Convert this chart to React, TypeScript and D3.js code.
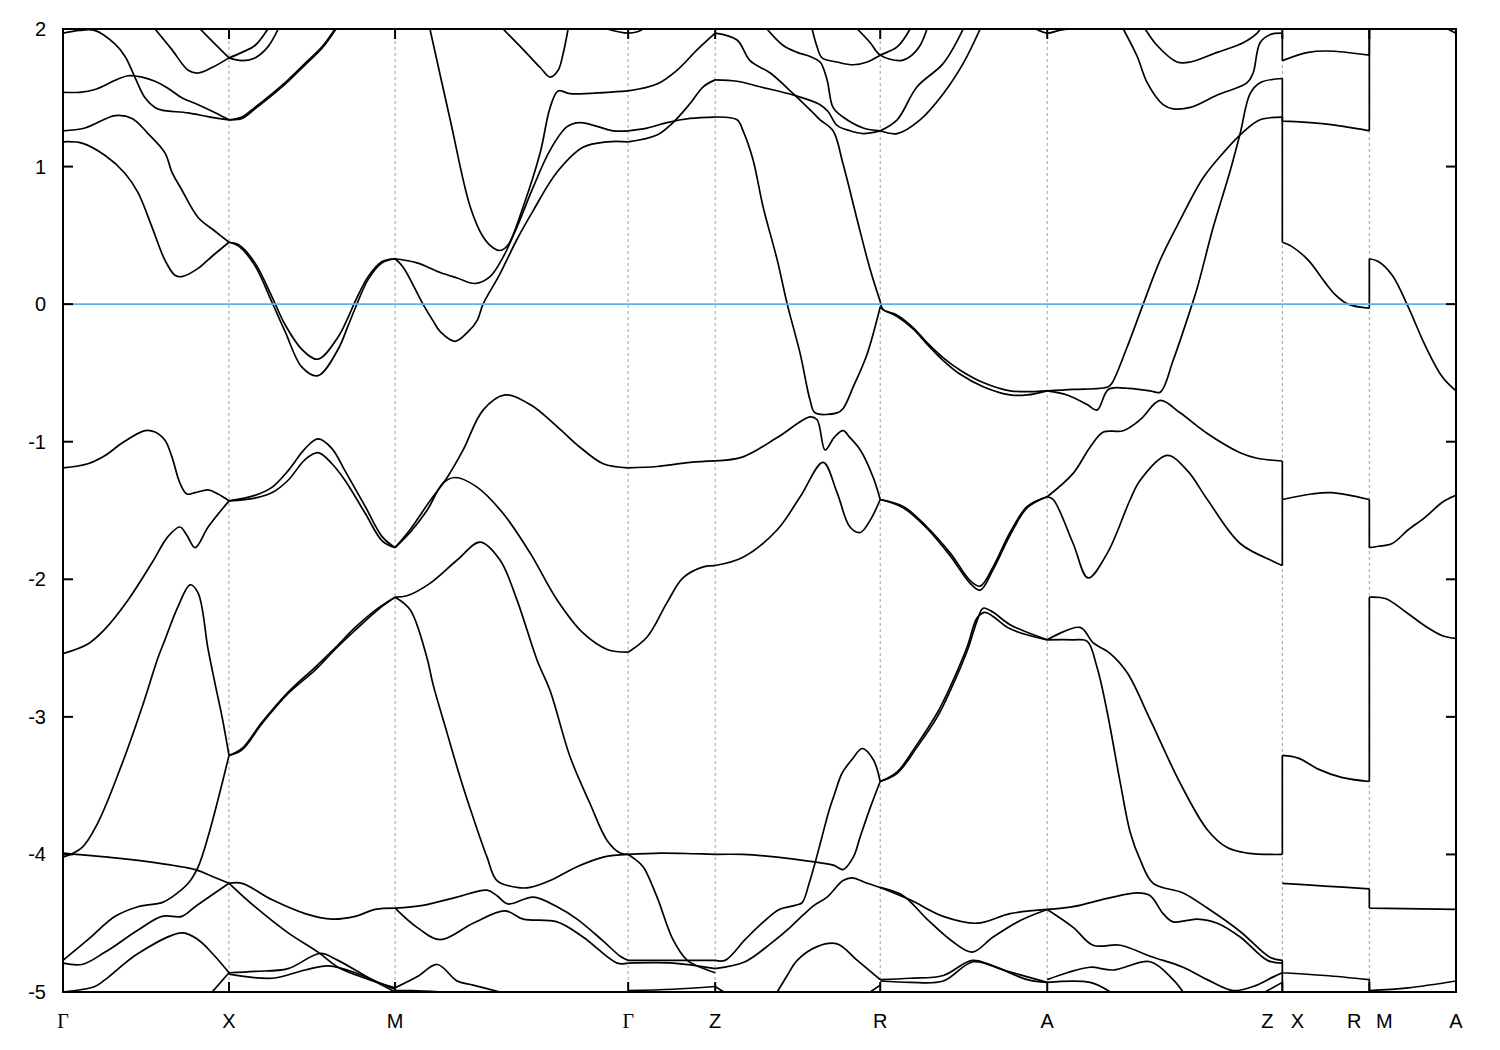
import React from 'react';
import * as d3 from 'd3';

type Pt = [number, number];

// high-symmetry path (k in path units) and labels
const kTicks = [0, 0.5, 1.0, 1.702, 1.964, 2.461, 2.964, 3.672, 3.934, 4.195];
const kLabels = ['Γ', 'X', 'M', 'Γ', 'Z', 'R', 'A', 'Z|X', 'R|M', 'A'];
const eTicks = [-5, -4, -3, -2, -1, 0, 1, 2];
const fermiLevel = 0;

// Γ – X
const bandsGX: Pt[][] = [
  [[0,1.97],[0.05,1.99],[0.095,1.99],[0.157,1.89],[0.187,1.80],[0.211,1.68],[0.247,1.50],[0.277,1.43],[0.298,1.41],[0.377,1.39],[0.443,1.36],[0.5,1.34]],
  [[0,1.54],[0.05,1.54],[0.096,1.56],[0.16,1.63],[0.196,1.66],[0.238,1.65],[0.277,1.62],[0.316,1.57],[0.358,1.50],[0.407,1.45],[0.46,1.39],[0.5,1.34]],
  [[0,1.26],[0.066,1.28],[0.157,1.37],[0.208,1.35],[0.256,1.24],[0.307,1.10],[0.328,0.96],[0.358,0.83],[0.407,0.63],[0.458,0.53],[0.5,0.45]],
  [[0,1.18],[0.057,1.17],[0.127,1.08],[0.187,0.95],[0.226,0.81],[0.268,0.56],[0.307,0.32],[0.337,0.21],[0.358,0.20],[0.407,0.26],[0.45,0.35],[0.5,0.45]],
  [[0.277,2.0],[0.328,1.85],[0.377,1.70],[0.407,1.68],[0.449,1.72],[0.5,1.79]],
  [[0.413,2.0],[0.458,1.89],[0.5,1.79]],
  [[0,-1.19],[0.075,-1.16],[0.127,-1.10],[0.178,-1.01],[0.247,-0.92],[0.277,-0.93],[0.307,-0.99],[0.328,-1.11],[0.352,-1.30],[0.373,-1.38],[0.398,-1.37],[0.437,-1.35],[0.467,-1.38],[0.5,-1.43]],
  [[0,-2.54],[0.075,-2.47],[0.127,-2.36],[0.196,-2.15],[0.268,-1.88],[0.316,-1.69],[0.352,-1.62],[0.373,-1.68],[0.398,-1.77],[0.437,-1.62],[0.5,-1.43]],
  [[0,-4.02],[0.057,-3.95],[0.105,-3.77],[0.178,-3.34],[0.238,-2.93],[0.286,-2.57],[0.307,-2.44],[0.346,-2.20],[0.383,-2.04],[0.407,-2.10],[0.437,-2.51],[0.458,-2.76],[0.479,-3.0],[0.5,-3.28]],
  [[0,-3.99],[0.178,-4.03],[0.277,-4.06],[0.398,-4.11],[0.45,-4.16],[0.5,-4.21]],
  [[0,-4.77],[0.075,-4.62],[0.157,-4.45],[0.226,-4.38],[0.298,-4.35],[0.328,-4.31],[0.377,-4.21],[0.407,-4.09],[0.437,-3.87],[0.467,-3.60],[0.5,-3.28]],
  [[0,-4.79],[0.057,-4.80],[0.127,-4.71],[0.226,-4.55],[0.298,-4.45],[0.358,-4.45],[0.398,-4.38],[0.5,-4.21]],
  [[0,-5.0],[0.096,-4.96],[0.127,-4.91],[0.226,-4.72],[0.358,-4.57],[0.407,-4.62],[0.45,-4.72],[0.5,-4.86]],
  [[0.449,-5.0],[0.5,-4.86]],
];

// X – M
const bandsXM: Pt[][] = [
  [[0.5,1.79],[0.539,1.83],[0.578,1.88],[0.617,2.0]],
  [[0.5,1.79],[0.539,1.77],[0.578,1.79],[0.617,1.87],[0.648,2.0]],
  [[0.5,1.34],[0.539,1.36],[0.578,1.43],[0.630,1.53],[0.678,1.63],[0.729,1.75],[0.780,1.87],[0.819,2.0]],
  [[0.5,1.34],[0.539,1.35],[0.578,1.42],[0.630,1.52],[0.678,1.62],[0.729,1.74],[0.780,1.86],[0.822,2.0]],
  [[0.5,0.45],[0.53,0.43],[0.578,0.30],[0.630,0.05],[0.669,-0.15],[0.720,-0.33],[0.768,-0.40],[0.828,-0.24],[0.858,-0.10],[0.880,0.02],[0.919,0.20],[0.961,0.31],[1.0,0.33]],
  [[0.5,0.45],[0.53,0.42],[0.578,0.28],[0.630,0.01],[0.669,-0.20],[0.720,-0.46],[0.768,-0.52],[0.828,-0.33],[0.858,-0.16],[0.880,-0.03],[0.919,0.18],[0.961,0.30],[1.0,0.33]],
  [[0.5,-1.43],[0.578,-1.39],[0.630,-1.33],[0.678,-1.21],[0.729,-1.05],[0.768,-0.98],[0.810,-1.05],[0.849,-1.21],[0.910,-1.47],[0.961,-1.69],[1.0,-1.77]],
  [[0.5,-1.43],[0.578,-1.41],[0.630,-1.37],[0.678,-1.28],[0.729,-1.13],[0.768,-1.08],[0.810,-1.16],[0.849,-1.28],[0.910,-1.52],[0.961,-1.72],[1.0,-1.77]],
  [[0.5,-3.28],[0.539,-3.24],[0.599,-3.05],[0.678,-2.83],[0.759,-2.66],[0.819,-2.51],[0.880,-2.37],[0.949,-2.22],[1.0,-2.13]],
  [[0.5,-3.28],[0.539,-3.23],[0.599,-3.04],[0.678,-2.82],[0.759,-2.64],[0.819,-2.50],[0.880,-2.35],[0.949,-2.21],[1.0,-2.13]],
  [[0.5,-4.21],[0.539,-4.21],[0.630,-4.33],[0.729,-4.43],[0.810,-4.47],[0.880,-4.45],[0.940,-4.40],[1.0,-4.39]],
  [[0.5,-4.21],[0.578,-4.38],[0.678,-4.57],[0.768,-4.71],[0.828,-4.82],[0.910,-4.90],[1.0,-4.97]],
  [[0.5,-4.86],[0.578,-4.85],[0.678,-4.83],[0.774,-4.72],[0.828,-4.77],[0.931,-4.91],[1.0,-4.98]],
  [[0.5,-4.87],[0.630,-4.90],[0.729,-4.84],[0.798,-4.81],[0.880,-4.86],[1.0,-5.0]],
];

// M – Γ
const bandsMG: Pt[][] = [
  [[1.105,2.0],[1.166,1.34],[1.226,0.71],[1.265,0.49],[1.295,0.41],[1.316,0.39],[1.340,0.43],[1.386,0.71],[1.437,1.10],[1.467,1.43],[1.491,1.55],[1.527,1.53],[1.639,1.54],[1.702,1.55]],
  [[1.0,0.33],[1.066,0.30],[1.136,0.23],[1.187,0.19],[1.241,0.15],[1.286,0.20],[1.325,0.34],[1.367,0.56],[1.416,0.85],[1.467,1.12],[1.518,1.29],[1.557,1.32],[1.657,1.26],[1.702,1.26]],
  [[1.0,0.33],[1.024,0.27],[1.084,0.0],[1.114,-0.12],[1.136,-0.20],[1.181,-0.27],[1.220,-0.20],[1.247,-0.12],[1.265,0.0],[1.316,0.22],[1.367,0.47],[1.416,0.68],[1.488,0.96],[1.566,1.14],[1.639,1.18],[1.702,1.18]],
  [[1.325,2.0],[1.386,1.85],[1.437,1.72],[1.467,1.65],[1.491,1.70],[1.506,1.82],[1.521,2.0]],
  [[1.639,2.0],[1.672,1.98],[1.702,1.97],[1.73,1.98],[1.747,2.0]],
  [[1.0,-1.77],[1.045,-1.64],[1.105,-1.43],[1.157,-1.26],[1.205,-1.06],[1.265,-0.77],[1.331,-0.66],[1.407,-0.73],[1.488,-0.89],[1.557,-1.04],[1.627,-1.16],[1.702,-1.19]],
  [[1.0,-1.77],[1.045,-1.66],[1.096,-1.50],[1.145,-1.30],[1.181,-1.26],[1.247,-1.33],[1.325,-1.52],[1.407,-1.81],[1.488,-2.15],[1.566,-2.39],[1.639,-2.51],[1.702,-2.53]],
  [[1.0,-2.13],[1.036,-2.12],[1.105,-2.03],[1.187,-1.86],[1.256,-1.73],[1.316,-1.86],[1.367,-2.15],[1.428,-2.59],[1.467,-2.81],[1.527,-3.29],[1.587,-3.63],[1.639,-3.90],[1.678,-3.99],[1.702,-4.0]],
  [[1.0,-2.13],[1.045,-2.22],[1.096,-2.57],[1.114,-2.76],[1.157,-3.12],[1.196,-3.44],[1.235,-3.73],[1.277,-4.02],[1.307,-4.19],[1.367,-4.24],[1.407,-4.24],[1.467,-4.19],[1.548,-4.09],[1.627,-4.02],[1.702,-4.0]],
  [[1.0,-4.39],[1.084,-4.37],[1.187,-4.31],[1.277,-4.26],[1.307,-4.30],[1.340,-4.36],[1.416,-4.31],[1.488,-4.38],[1.548,-4.47],[1.627,-4.63],[1.678,-4.74],[1.702,-4.77]],
  [[1.0,-4.39],[1.066,-4.53],[1.136,-4.62],[1.235,-4.50],[1.331,-4.41],[1.386,-4.47],[1.488,-4.49],[1.566,-4.60],[1.669,-4.79],[1.702,-4.79]],
  [[1.0,-4.97],[1.066,-4.89],[1.127,-4.80],[1.187,-4.92],[1.235,-4.95],[1.316,-5.0]],
  [[1.0,-4.99],[1.05,-4.99],[1.14,-5.0]],
];

// Γ – Z
const bandsGZ: Pt[][] = [
  [[1.702,1.55],[1.789,1.60],[1.849,1.70],[1.910,1.85],[1.964,1.97]],
  [[1.702,1.26],[1.759,1.28],[1.819,1.32],[1.889,1.35],[1.964,1.36]],
  [[1.702,1.18],[1.789,1.23],[1.837,1.32],[1.889,1.46],[1.928,1.58],[1.964,1.63]],
  [[1.702,-1.19],[1.789,-1.18],[1.889,-1.15],[1.964,-1.14]],
  [[1.702,-2.53],[1.759,-2.42],[1.819,-2.17],[1.867,-1.99],[1.928,-1.91],[1.964,-1.90]],
  [[1.702,-4.0],[1.8,-3.99],[1.9,-3.995],[1.964,-4.0]],
  [[1.702,-4.0],[1.72,-4.03],[1.747,-4.09],[1.789,-4.31],[1.837,-4.62],[1.880,-4.77],[1.940,-4.84],[1.964,-4.86]],
  [[1.702,-4.77],[1.83,-4.77],[1.964,-4.77]],
  [[1.702,-4.79],[1.837,-4.79],[1.964,-4.83]],
  [[1.702,-4.99],[1.837,-4.98],[1.964,-4.96]],
];

// Z – R
const bandsZR: Pt[][] = [
  [[1.964,1.97],[2.030,1.92],[2.069,1.77],[2.130,1.68],[2.199,1.53],[2.259,1.39],[2.280,1.34],[2.319,1.26],[2.349,1.02],[2.392,0.61],[2.431,0.25],[2.461,0.02]],
  [[1.964,1.63],[2.030,1.62],[2.099,1.58],[2.199,1.52],[2.280,1.45],[2.304,1.40],[2.331,1.30],[2.370,1.26],[2.410,1.24],[2.461,1.26]],
  [[2.120,2.0],[2.169,1.88],[2.211,1.83],[2.250,1.80],[2.280,1.76],[2.301,1.63],[2.319,1.43],[2.349,1.36],[2.410,1.28],[2.461,1.26]],
  [[2.256,2.0],[2.271,1.87],[2.286,1.79],[2.331,1.76],[2.380,1.74],[2.422,1.76],[2.461,1.81],[2.512,1.87],[2.551,2.0]],
  [[2.392,2.0],[2.431,1.90],[2.461,1.81],[2.521,1.77],[2.551,1.80],[2.581,1.88],[2.602,2.0]],
  [[1.964,1.36],[2.030,1.34],[2.048,1.26],[2.078,1.05],[2.108,0.71],[2.151,0.32],[2.181,0.0],[2.220,-0.36],[2.250,-0.70],[2.265,-0.79],[2.331,-0.79],[2.349,-0.76],[2.380,-0.60],[2.422,-0.36],[2.461,-0.02]],
  [[1.964,-1.14],[2.048,-1.11],[2.151,-0.97],[2.250,-0.82],[2.271,-0.84],[2.295,-1.06],[2.322,-0.97],[2.349,-0.92],[2.370,-0.97],[2.401,-1.06],[2.440,-1.26],[2.461,-1.42]],
  [[1.964,-1.90],[2.048,-1.84],[2.151,-1.64],[2.220,-1.40],[2.289,-1.15],[2.331,-1.37],[2.370,-1.62],[2.401,-1.66],[2.431,-1.57],[2.461,-1.42]],
  [[1.964,-4.0],[2.048,-4.0],[2.151,-4.02],[2.250,-4.05],[2.322,-4.08],[2.349,-4.11],[2.380,-4.02],[2.401,-3.87],[2.431,-3.66],[2.461,-3.47]],
  [[1.964,-4.77],[1.994,-4.77],[2.054,-4.62],[2.105,-4.50],[2.157,-4.40],[2.205,-4.37],[2.226,-4.35],[2.247,-4.21],[2.265,-4.06],[2.286,-3.87],[2.307,-3.68],[2.325,-3.55],[2.346,-3.41],[2.376,-3.31],[2.407,-3.23],[2.440,-3.31],[2.461,-3.47]],
  [[1.964,-4.83],[2.054,-4.78],[2.130,-4.65],[2.190,-4.53],[2.229,-4.44],[2.262,-4.37],[2.301,-4.31],[2.349,-4.19],[2.376,-4.17],[2.422,-4.21],[2.461,-4.24]],
  [[2.151,-5.0],[2.181,-4.88],[2.211,-4.77],[2.271,-4.67],[2.331,-4.65],[2.392,-4.77],[2.461,-4.91]],
  [[2.431,-5.0],[2.461,-4.95]],
  [[1.964,-4.96],[1.99,-5.0]],
];

// R – A
const bandsRA: Pt[][] = [
  [[2.461,0.02],[2.470,-0.04],[2.512,-0.08],[2.560,-0.17],[2.602,-0.28],[2.651,-0.39],[2.702,-0.48],[2.771,-0.57],[2.852,-0.63],[2.964,-0.63]],
  [[2.461,-0.02],[2.470,-0.04],[2.512,-0.09],[2.560,-0.18],[2.602,-0.29],[2.651,-0.41],[2.702,-0.51],[2.771,-0.60],[2.852,-0.66],[2.904,-0.66],[2.964,-0.63]],
  [[2.461,-1.42],[2.530,-1.47],[2.602,-1.62],[2.672,-1.81],[2.732,-2.01],[2.762,-2.05],[2.801,-1.91],[2.852,-1.66],[2.904,-1.47],[2.964,-1.40]],
  [[2.461,-1.42],[2.530,-1.48],[2.602,-1.63],[2.672,-1.83],[2.732,-2.03],[2.762,-2.08],[2.801,-1.93],[2.852,-1.68],[2.904,-1.48],[2.964,-1.40]],
  [[2.461,-3.47],[2.512,-3.41],[2.572,-3.22],[2.633,-3.0],[2.672,-2.81],[2.723,-2.52],[2.753,-2.30],[2.771,-2.21],[2.801,-2.24],[2.852,-2.33],[2.964,-2.44]],
  [[2.461,-3.47],[2.512,-3.40],[2.572,-3.20],[2.633,-2.97],[2.672,-2.78],[2.723,-2.49],[2.753,-2.28],[2.776,-2.24],[2.801,-2.27],[2.852,-2.36],[2.964,-2.44]],
  [[2.461,-4.24],[2.551,-4.33],[2.651,-4.45],[2.753,-4.50],[2.852,-4.43],[2.964,-4.40]],
  [[2.461,-4.24],[2.530,-4.30],[2.602,-4.47],[2.672,-4.62],[2.738,-4.71],[2.801,-4.60],[2.883,-4.48],[2.964,-4.40]],
  [[2.461,-4.91],[2.551,-4.90],[2.651,-4.88],[2.738,-4.77],[2.801,-4.81],[2.904,-4.91],[2.964,-4.93]],
  [[2.461,-4.92],[2.551,-4.93],[2.651,-4.92],[2.741,-4.78],[2.831,-4.84],[2.964,-4.93]],
  [[2.461,1.26],[2.512,1.24],[2.581,1.34],[2.651,1.53],[2.711,1.75],[2.762,2.0]],
  [[2.461,1.26],[2.512,1.34],[2.572,1.58],[2.651,1.75],[2.711,2.0]],
  [[2.93,2.0],[2.964,1.97],[3.0,1.99],[3.03,2.0]],
];

// A – Z
const bandsAZ: Pt[][] = [
  [[3.193,2.0],[3.235,1.80],[3.265,1.61],[3.313,1.45],[3.343,1.42],[3.395,1.43],[3.476,1.52],[3.566,1.61],[3.584,1.68],[3.605,1.90],[3.636,1.96],[3.672,1.97]],
  [[3.259,2.0],[3.295,1.88],[3.355,1.76],[3.395,1.76],[3.476,1.83],[3.554,1.90],[3.596,1.97],[3.605,2.0]],
  [[2.964,-0.63],[3.042,-0.62],[3.148,-0.60],[3.160,-0.57],[3.205,-0.31],[3.253,0.0],[3.304,0.32],[3.364,0.61],[3.434,0.92],[3.494,1.10],[3.554,1.25],[3.605,1.34],[3.672,1.36]],
  [[2.964,-0.63],[3.024,-0.66],[3.084,-0.73],[3.114,-0.77],[3.148,-0.62],[3.199,-0.61],[3.274,-0.63],[3.304,-0.64],[3.343,-0.41],[3.395,-0.04],[3.416,0.12],[3.464,0.56],[3.515,0.97],[3.545,1.24],[3.575,1.53],[3.605,1.61],[3.672,1.64]],
  [[2.964,-1.40],[3.042,-1.23],[3.093,-1.04],[3.133,-0.93],[3.193,-0.92],[3.244,-0.84],[3.304,-0.70],[3.364,-0.79],[3.446,-0.94],[3.545,-1.08],[3.596,-1.12],[3.672,-1.14]],
  [[2.964,-1.40],[2.982,-1.42],[3.042,-1.74],[3.087,-1.99],[3.145,-1.81],[3.214,-1.42],[3.244,-1.28],[3.325,-1.10],[3.386,-1.21],[3.446,-1.42],[3.545,-1.74],[3.645,-1.87],[3.672,-1.90]],
  [[2.964,-2.44],[3.063,-2.35],[3.102,-2.46],[3.154,-2.54],[3.205,-2.68],[3.274,-3.02],[3.364,-3.48],[3.446,-3.82],[3.506,-3.95],[3.566,-3.99],[3.672,-4.0]],
  [[2.964,-2.44],[3.042,-2.44],[3.084,-2.45],[3.114,-2.64],[3.145,-2.97],[3.184,-3.48],[3.214,-3.84],[3.244,-4.04],[3.283,-4.21],[3.373,-4.28],[3.446,-4.39],[3.545,-4.56],[3.636,-4.75],[3.672,-4.77]],
  [[2.964,-4.40],[3.042,-4.38],[3.145,-4.32],[3.235,-4.28],[3.274,-4.30],[3.313,-4.43],[3.343,-4.49],[3.416,-4.47],[3.476,-4.50],[3.545,-4.60],[3.627,-4.77],[3.672,-4.79]],
  [[2.964,-4.40],[3.042,-4.53],[3.102,-4.66],[3.184,-4.66],[3.274,-4.74],[3.373,-4.82],[3.446,-4.91],[3.524,-4.99],[3.584,-4.96],[3.645,-4.89],[3.672,-4.86]],
  [[2.964,-4.91],[3.024,-4.86],[3.093,-4.82],[3.163,-4.84],[3.274,-4.78],[3.343,-4.91],[3.373,-5.0]],
  [[2.964,-4.93],[3.093,-4.93],[3.154,-5.0]],
  [[3.62,-5.0],[3.672,-4.93]],
];

// X – R (after the Z|X break)
const bandsXR: Pt[][] = [
  [[3.672,1.97],[3.672,1.77],[3.750,1.83],[3.810,1.84],[3.934,1.81],[3.934,2.0]],
  [[3.672,1.64],[3.672,1.33],[3.80,1.31],[3.934,1.26],[3.934,2.0]],
  [[3.672,1.36],[3.672,0.45],[3.70,0.42],[3.750,0.32],[3.80,0.16],[3.831,0.07],[3.870,0.0],[3.934,-0.03]],
  [[3.672,-1.14],[3.672,-1.42],[3.76,-1.38],[3.82,-1.37],[3.934,-1.42]],
  [[3.672,-1.90],[3.672,-1.42]],
  [[3.672,-4.0],[3.672,-3.28],[3.72,-3.30],[3.78,-3.38],[3.85,-3.44],[3.934,-3.47]],
  [[3.672,-4.21],[3.80,-4.23],[3.934,-4.25]],
  [[3.672,-4.77],[3.672,-4.86],[3.80,-4.88],[3.934,-4.91]],
  [[3.672,-4.86],[3.672,-5.0]],
];

// M – A (after the R|M break)
const bandsMA: Pt[][] = [
  [[4.17,2.0],[4.195,1.97]],
  [[3.934,-0.03],[3.934,0.33],[3.961,0.31],[4.003,0.21],[4.051,-0.02],[4.102,-0.30],[4.154,-0.53],[4.195,-0.63]],
  [[3.934,-1.42],[3.934,-1.77],[3.961,-1.76],[4.003,-1.74],[4.051,-1.64],[4.102,-1.55],[4.154,-1.44],[4.195,-1.39]],
  [[3.934,-3.47],[3.934,-2.13],[3.982,-2.14],[4.051,-2.25],[4.102,-2.34],[4.154,-2.41],[4.195,-2.43]],
  [[3.934,-4.25],[3.934,-4.39],[4.195,-4.40]],
  [[3.934,-4.91],[3.934,-4.99],[4.05,-4.97],[4.195,-4.92]],
];

export default function App() {
  const W = 1500, H = 1050;
  const left = 63, right = 1456, top = 29, bottom = 992;
  const x = d3.scaleLinear().domain([kTicks[0], kTicks[kTicks.length - 1]]).range([left, right]);
  const y = d3.scaleLinear().domain([-5, 2]).range([bottom, top]);

  const allBands = [...bandsGX, ...bandsXM, ...bandsMG, ...bandsGZ, ...bandsZR, ...bandsRA, ...bandsAZ, ...bandsXR, ...bandsMA];

  const line = d3.line<Pt>().x(d => x(d[0])).y(d => y(d[1])).curve(d3.curveCatmullRom.alpha(0.5));

  const pathFor = (b: Pt[]) => {
    const runs: Pt[][] = [];
    let cur: Pt[] = [b[0]];
    for (let i = 1; i < b.length; i++) {
      if (b[i][0] > b[i - 1][0] + 1e-9) cur.push(b[i]);
      else { runs.push(cur); cur = [b[i]]; }
    }
    runs.push(cur);
    let d = '';
    runs.forEach((r, i) => {
      if (r.length > 1) d += line(r) || '';
      if (i < runs.length - 1) {
        const a = r[r.length - 1], c = runs[i + 1][0];
        d += `M${x(a[0])},${y(a[1])}L${x(c[0])},${y(c[1])}`;
      }
    });
    return d;
  };

  const font = '"Liberation Sans", Arial, sans-serif';

  return (
    <svg width={W} height={H} style={{ position: 'absolute', left: 0, top: 0, background: '#fff' }}>
      <defs>
        <clipPath id="plotclip">
          <rect x={left} y={top} width={right - left} height={bottom - top} />
        </clipPath>
      </defs>
      <rect x={0} y={0} width={W} height={H} fill="#fff" />
      {kTicks.slice(1, -1).map((k, i) => (
        <line key={'v' + i} x1={x(k)} x2={x(k)} y1={top} y2={bottom} stroke="#a0a0a0" strokeWidth={1} strokeDasharray="3,3" />
      ))}
      <g clipPath="url(#plotclip)" fill="none" stroke="#000" strokeWidth={1.7} strokeLinejoin="round">
        {allBands.map((b, i) => <path key={'b' + i} d={pathFor(b)} />)}
      </g>
      <line x1={left} x2={right} y1={y(fermiLevel)} y2={y(fermiLevel)} stroke="#56b4e9" strokeWidth={1.7} />
      <rect x={left} y={top} width={right - left} height={bottom - top} fill="none" stroke="#000" strokeWidth={2} />
      {eTicks.map(e => (
        <g key={'yt' + e}>
          <line x1={left} x2={left + 10} y1={y(e)} y2={y(e)} stroke="#000" strokeWidth={2} />
          <line x1={right - 10} x2={right} y1={y(e)} y2={y(e)} stroke="#000" strokeWidth={2} />
          <text x={46} y={y(e) + 7} textAnchor="end" fontFamily={font} fontSize={20} fill="#000">{e}</text>
        </g>
      ))}
      {kTicks.map((k, i) => {
        const parts = kLabels[i].split('|');
        return (
          <g key={'xt' + i}>
            <line x1={x(k)} x2={x(k)} y1={bottom} y2={bottom - 10} stroke="#000" strokeWidth={2} />
            <line x1={x(k)} x2={x(k)} y1={top} y2={top + 10} stroke="#000" strokeWidth={2} />
            {parts.length === 1 ? (
              <text x={x(k)} y={1028} textAnchor="middle" fontFamily={parts[0] === 'Γ' ? '"Liberation Serif", serif' : font} fontSize={20} fill="#000">{parts[0]}</text>
            ) : (
              <>
                <text x={x(k) - 15} y={1028} textAnchor="middle" fontFamily={font} fontSize={20} fill="#000">{parts[0]}</text>
                <text x={x(k) + 15} y={1028} textAnchor="middle" fontFamily={font} fontSize={20} fill="#000">{parts[1]}</text>
              </>
            )}
          </g>
        );
      })}
    </svg>
  );
}
